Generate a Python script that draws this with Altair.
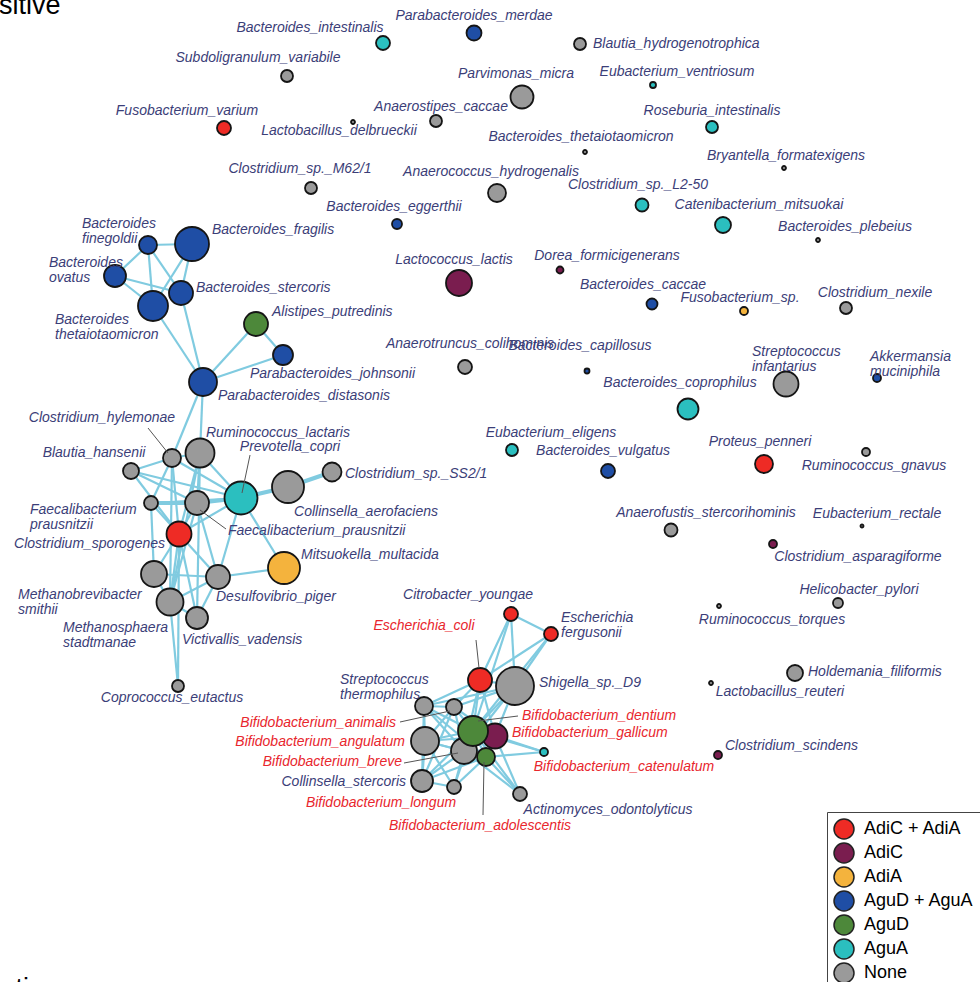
import altair as alt
import pandas as pd

# ---- legend groups -------------------------------------------------------
group_codes = ["adiCA", "adiC", "adiA", "aguDA", "aguD", "aguA", "none"]
group_names = ["AdiC + AdiA", "AdiC", "AdiA", "AguD + AguA", "AguD", "AguA", "None"]
group_colors = ["#ee2b25", "#7a1d4f", "#f4b33d", "#1f4ea5", "#4d883a", "#2bbfbf", "#9a9a9a"]

# ---- nodes (layout coordinates, node diameter, gene group) ---------------
node_keys = [
    "bint", "pmer", "bhyd", "svar", "even", "pmic", "acac", "fvar", "ldel", "rint",
    "bthe2", "bfor", "cm62", "ahyd", "cl250", "begg", "cmit", "bple", "llac", "dfor",
    "bcac", "fsp", "cnex", "acol", "bcap", "sinf", "amuc", "bcop", "eeli", "bvul",
    "ppen", "rgna", "aste", "erec", "casp", "hpyl", "rtor", "hfil", "lreu", "csci",
    "bfin", "bfra", "bova", "bste", "bthe", "aput", "pjoh", "pdis",
    "chyl", "rlac", "bhan", "pcop", "css2", "caer", "fpr1", "fpr2", "cspo", "mmul",
    "msmi", "dpig", "msta", "vvad", "ceut",
    "cyou", "efer", "ecol", "shig", "sthe", "bani", "bgal", "bang", "bbre", "bden",
    "bado", "bcat", "cste", "blon", "aodo",
]
node_labels = [
    "Bacteroides_intestinalis", "Parabacteroides_merdae", "Blautia_hydrogenotrophica",
    "Subdoligranulum_variabile", "Eubacterium_ventriosum", "Parvimonas_micra",
    "Anaerostipes_caccae", "Fusobacterium_varium", "Lactobacillus_delbrueckii",
    "Roseburia_intestinalis",
    "Bacteroides_thetaiotaomicron", "Bryantella_formatexigens", "Clostridium_sp._M62/1",
    "Anaerococcus_hydrogenalis", "Clostridium_sp._L2-50", "Bacteroides_eggerthii",
    "Catenibacterium_mitsuokai", "Bacteroides_plebeius", "Lactococcus_lactis",
    "Dorea_formicigenerans",
    "Bacteroides_caccae", "Fusobacterium_sp.", "Clostridium_nexile",
    "Anaerotruncus_colihominis", "Bacteroides_capillosus", "Streptococcus\ninfantarius",
    "Akkermansia\nmuciniphila", "Bacteroides_coprophilus", "Eubacterium_eligens",
    "Bacteroides_vulgatus",
    "Proteus_penneri", "Ruminococcus_gnavus", "Anaerofustis_stercorihominis",
    "Eubacterium_rectale", "Clostridium_asparagiforme", "Helicobacter_pylori",
    "Ruminococcus_torques", "Holdemania_filiformis", "Lactobacillus_reuteri",
    "Clostridium_scindens",
    "Bacteroides\nfinegoldii", "Bacteroides_fragilis", "Bacteroides\novatus",
    "Bacteroides_stercoris", "Bacteroides\nthetaiotaomicron", "Alistipes_putredinis",
    "Parabacteroides_johnsonii", "Parabacteroides_distasonis",
    "Clostridium_hylemonae", "Ruminococcus_lactaris", "Blautia_hansenii",
    "Prevotella_copri", "Clostridium_sp._SS2/1", "Collinsella_aerofaciens",
    "Faecalibacterium\nprausnitzii", "Faecalibacterium_prausnitzii",
    "Clostridium_sporogenes", "Mitsuokella_multacida",
    "Methanobrevibacter\nsmithii", "Desulfovibrio_piger", "Methanosphaera\nstadtmanae",
    "Victivallis_vadensis", "Coprococcus_eutactus",
    "Citrobacter_youngae", "Escherichia\nfergusonii", "Escherichia_coli",
    "Shigella_sp._D9", "Streptococcus\nthermophilus", "Bifidobacterium_animalis",
    "Bifidobacterium_gallicum", "Bifidobacterium_angulatum", "Bifidobacterium_breve",
    "Bifidobacterium_dentium",
    "Bifidobacterium_adolescentis", "Bifidobacterium_catenulatum", "Collinsella_stercoris",
    "Bifidobacterium_longum", "Actinomyces_odontolyticus",
]
node_x = [
    383, 474, 580, 287, 653, 522, 436, 224, 353, 712,
    585, 784, 311, 497, 642, 397, 723, 818, 459, 560,
    652, 744, 846, 465, 587, 786, 877, 688, 512, 608,
    764, 866, 671, 862, 773, 838, 719, 795, 711, 718,
    148, 192, 115, 181, 153, 256, 283, 203,
    172, 200, 131, 241, 332, 288, 151, 197, 179, 284,
    154, 218, 170, 197, 178,
    511, 551, 480, 515, 424, 454, 495, 425, 464, 473,
    486, 544, 422, 454, 520,
]
node_y = [
    43, 33, 44, 76, 85, 97, 121, 128, 122, 127,
    152, 168, 188, 193, 205, 224, 225, 240, 283, 270,
    304, 311, 308, 367, 371, 384, 378, 409, 450, 471,
    464, 452, 530, 526, 544, 603, 606, 673, 683, 755,
    245, 244, 276, 293, 306, 324, 355, 382,
    458, 453, 471, 498, 472, 487, 503, 503, 534, 568,
    574, 577, 602, 618, 686,
    614, 634, 680, 686, 706, 707, 736, 741, 751, 731,
    757, 752, 781, 787, 794,
]
node_diam = [
    14, 15, 12, 12, 6, 23, 12, 14, 4, 12,
    4, 4, 12, 18, 13, 10, 16, 4, 26, 7,
    11, 8, 12, 14, 5, 25, 8, 21, 12, 14,
    18, 8, 13, 3, 8, 10, 4, 16, 4, 8,
    18, 34, 22, 24, 30, 24, 20, 28,
    18, 29, 16, 33, 19, 32, 14, 24, 25, 32,
    26, 24, 27, 22, 12,
    14, 14, 24, 38, 18, 16, 25, 28, 26, 30,
    18, 8, 22, 14, 14,
]
node_group = [
    "aguA", "aguDA", "none", "none", "aguA", "none", "none", "adiCA", "none", "aguA",
    "none", "none", "none", "none", "aguA", "aguDA", "aguA", "none", "adiC", "adiC",
    "aguDA", "adiA", "none", "none", "aguDA", "none", "aguDA", "aguA", "aguA", "aguDA",
    "adiCA", "none", "none", "none", "adiC", "none", "none", "none", "none", "adiC",
    "aguDA", "aguDA", "aguDA", "aguDA", "aguDA", "aguD", "aguDA", "aguDA",
    "none", "none", "none", "aguA", "none", "none", "none", "none", "adiCA", "adiA",
    "none", "none", "none", "none", "none",
    "adiCA", "adiCA", "adiCA", "none", "none", "none", "adiC", "none", "none", "aguD",
    "aguD", "aguA", "none", "none", "none",
]

# ---- label anchors ---------------------------------------------------------
label_x = [
    310, 474, 593, 258, 677, 516, 441, 187, 339, 712,
    581, 786, 300, 491, 638, 394, 759, 845, 454, 607,
    643, 740, 875, 470, 580, 752, 870, 680, 551, 603,
    760, 874, 706, 877, 858, 859, 772, 808, 780, 725,
    82, 212, 49, 196, 55, 272, 250, 218,
    102, 206, 94, 290, 345, 366, 30, 228, 165, 301,
    18, 216, 63, 182, 172,
    468, 561, 424, 539, 340, 396, 512, 405, 402, 522,
    480, 624, 406, 381, 608,
]
label_y = [
    28, 16, 44, 58, 72, 74, 107, 111, 131, 111,
    137, 156, 169, 172, 185, 207, 205, 227, 260, 256,
    285, 298, 293, 344, 346, 352, 357, 383, 433, 451,
    442, 466, 513, 514, 557, 590, 620, 672, 692, 746,
    224, 230, 263, 288, 320, 312, 374, 396,
    418, 433, 453, 447, 474, 512, 510, 531, 544, 555,
    595, 597, 628, 640, 698,
    595, 618, 626, 683, 680, 723, 733, 742, 762, 716,
    826, 767, 782, 803, 810,
]
label_align = [
    "center", "center", "left", "center", "center", "center", "center", "center", "center", "center",
    "center", "center", "center", "center", "center", "center", "center", "center", "center", "center",
    "center", "center", "center", "center", "center", "left", "left", "center", "center", "center",
    "center", "center", "center", "center", "center", "center", "center", "left", "center", "left",
    "left", "left", "left", "left", "left", "left", "left", "left",
    "center", "left", "center", "center", "left", "center", "left", "left", "right", "left",
    "left", "left", "left", "left", "center",
    "center", "left", "center", "left", "left", "right", "left", "right", "right", "left",
    "center", "center", "right", "center", "center",
]
red_labels = {"ecol", "bani", "bgal", "bang", "bbre", "bden", "bado", "bcat", "blon"}

# ---- network edges -----------------------------------------------------------
edges_thin = [
    ("bfin", "bfra"), ("bfin", "bova"), ("bfin", "bthe"), ("bfin", "bste"),
    ("bfra", "bste"), ("bfra", "bthe"), ("bova", "bthe"), ("bova", "bste"),
    ("bste", "pdis"), ("bthe", "pdis"), ("pdis", "aput"), ("pdis", "pjoh"),
    ("aput", "pjoh"), ("pdis", "chyl"), ("pdis", "rlac"),
    ("bhan", "chyl"), ("bhan", "fpr2"), ("bhan", "cspo"), ("bhan", "pcop"),
    ("chyl", "rlac"), ("chyl", "fpr1"), ("chyl", "cspo"), ("chyl", "pcop"), ("chyl", "msta"),
    ("rlac", "pcop"), ("rlac", "fpr2"), ("rlac", "cspo"), ("rlac", "vvad"), ("rlac", "msta"),
    ("fpr1", "cspo"), ("fpr1", "pcop"), ("fpr1", "msmi"),
    ("fpr2", "cspo"), ("fpr2", "dpig"), ("fpr2", "msta"),
    ("pcop", "mmul"), ("pcop", "cspo"), ("pcop", "dpig"),
    ("cspo", "msmi"), ("cspo", "msta"), ("cspo", "dpig"), ("cspo", "vvad"), ("cspo", "ceut"),
    ("msmi", "dpig"), ("msmi", "msta"), ("msta", "dpig"), ("msta", "vvad"),
    ("dpig", "mmul"), ("dpig", "vvad"), ("msta", "ceut"),
    ("cyou", "efer"), ("cyou", "ecol"), ("cyou", "shig"), ("cyou", "bden"),
    ("efer", "shig"), ("efer", "ecol"), ("efer", "bden"),
    ("ecol", "shig"), ("ecol", "sthe"), ("ecol", "bani"), ("ecol", "bden"),
    ("ecol", "bbre"), ("ecol", "bgal"),
    ("shig", "bden"), ("shig", "bgal"), ("shig", "bbre"), ("shig", "bani"), ("shig", "sthe"),
    ("sthe", "bani"), ("sthe", "bang"), ("sthe", "bden"), ("sthe", "bbre"),
    ("sthe", "cste"), ("sthe", "bado"),
    ("bani", "bden"), ("bani", "bang"), ("bani", "bbre"), ("bani", "bgal"), ("bani", "cste"),
    ("bang", "bden"), ("bang", "bbre"), ("bang", "cste"), ("bang", "blon"),
    ("bang", "bado"), ("bang", "bgal"),
    ("bden", "bgal"), ("bden", "bbre"), ("bden", "bado"), ("bden", "bcat"),
    ("bden", "aodo"), ("bden", "cste"), ("bden", "blon"),
    ("bgal", "bcat"), ("bgal", "aodo"), ("bgal", "bado"),
    ("bbre", "bado"), ("bbre", "cste"), ("bbre", "blon"), ("bbre", "aodo"),
    ("bado", "bcat"), ("bado", "aodo"), ("bado", "blon"), ("bado", "cste"),
    ("cste", "blon"),
]
edges_thick = [("fpr1", "fpr2"), ("fpr2", "pcop"), ("pcop", "caer"), ("caer", "css2")]

# ---- leader lines from labels to their nodes -----------------------------------
leader_x1 = [148, 250, 226, 476, 400, 518, 404, 483]
leader_y1 = [428, 455, 529, 640, 722, 716, 763, 815]
leader_x2 = [168, 242, 200, 479, 450, 478, 458, 484]
leader_y2 = [453, 493, 510, 668, 711, 721, 753, 762]

# ---- tables ---------------------------------------------------------------------
code_to_name = dict(zip(group_codes, group_names))
nodes = pd.DataFrame({
    "key": node_keys, "label": node_labels, "x": node_x, "y": node_y,
    "d": node_diam, "group": [code_to_name[g] for g in node_group],
    "lx": label_x, "ly": label_y, "align": label_align,
    "red": [k in red_labels for k in node_keys],
})
pos = {k: (x, y) for k, x, y in zip(node_keys, node_x, node_y)}
edge_rows = []
for pairs, w in ((edges_thin, 1), (edges_thick, 2)):
    for a, b in pairs:
        edge_rows.append({"x": pos[a][0], "y": pos[a][1], "x2": pos[b][0], "y2": pos[b][1], "w": w})
edges = pd.DataFrame(edge_rows)
leaders = pd.DataFrame({"x": leader_x1, "y": leader_y1, "x2": leader_x2, "y2": leader_y2})

X = alt.X("x:Q", scale=alt.Scale(domain=[0, 980], nice=False, zero=False), axis=None)
Y = alt.Y("y:Q", scale=alt.Scale(domain=[0, 982], nice=False, zero=False, reverse=True), axis=None)
LX = alt.X("lx:Q", scale=alt.Scale(domain=[0, 980], nice=False, zero=False), axis=None)
LY = alt.Y("ly:Q", scale=alt.Scale(domain=[0, 982], nice=False, zero=False, reverse=True), axis=None)

edge_layer = alt.Chart(edges).mark_rule(color="#80cbe0").encode(
    x=X, y=Y, x2="x2:Q", y2="y2:Q",
    strokeWidth=alt.StrokeWidth("w:Q", scale=alt.Scale(domain=[1, 2], range=[2.2, 4.2]), legend=None),
)

node_layer = alt.Chart(nodes).mark_circle(stroke="#151515", strokeWidth=1.8, opacity=1).encode(
    x=X, y=Y,
    size=alt.Size("d:Q", scale=alt.Scale(type="pow", exponent=2, domain=[0, 40], range=[0, 1600]), legend=None),
    color=alt.Color(
        "group:N",
        scale=alt.Scale(domain=group_names, range=group_colors),
        legend=alt.Legend(
            title=None, orient="none", legendX=827, legendY=812, padding=6,
            strokeColor="#444444", fillColor="white", symbolType="circle",
            symbolSize=400, symbolStrokeColor="#222222", symbolStrokeWidth=1.5,
            symbolOpacity=1, labelFont="Liberation Sans", labelFontSize=18,
            labelColor="black", rowPadding=-4, labelOffset=9, labelLimit=200,
        ),
    ),
)

leader_layer = alt.Chart(leaders).mark_rule(color="#555555", strokeWidth=1).encode(
    x=X, y=Y, x2="x2:Q", y2="y2:Q"
)

label_layers = []
for al in ("left", "center", "right"):
    for is_red, col in ((False, "#3b3e78"), (True, "#e8262d")):
        sub = nodes[(nodes["align"] == al) & (nodes["red"] == is_red)]
        if len(sub) == 0:
            continue
        label_layers.append(
            alt.Chart(sub).mark_text(
                align=al, baseline="middle", font="Liberation Sans", fontStyle="italic",
                fontSize=14, color=col, lineBreak="\n", lineHeight=15,
            ).encode(x=LX, y=LY, text="label:N")
        )

panel_titles = pd.DataFrame({"x": [-34, -49], "y": [14, 997], "t": ["Positive", "Negative"]})
title_layer = alt.Chart(panel_titles).mark_text(
    align="left", baseline="alphabetic", font="Liberation Sans", fontSize=27, color="black"
).encode(x=X, y=Y, text="t:N")

chart = alt.layer(edge_layer, node_layer, leader_layer, *label_layers, title_layer).properties(
    width=980, height=982, padding=0, autosize=alt.AutoSizeParams(type="none"),
    background="white",
).configure_view(stroke=None)

chart.save("out.html", embed_options={"renderer": "svg", "actions": False})
